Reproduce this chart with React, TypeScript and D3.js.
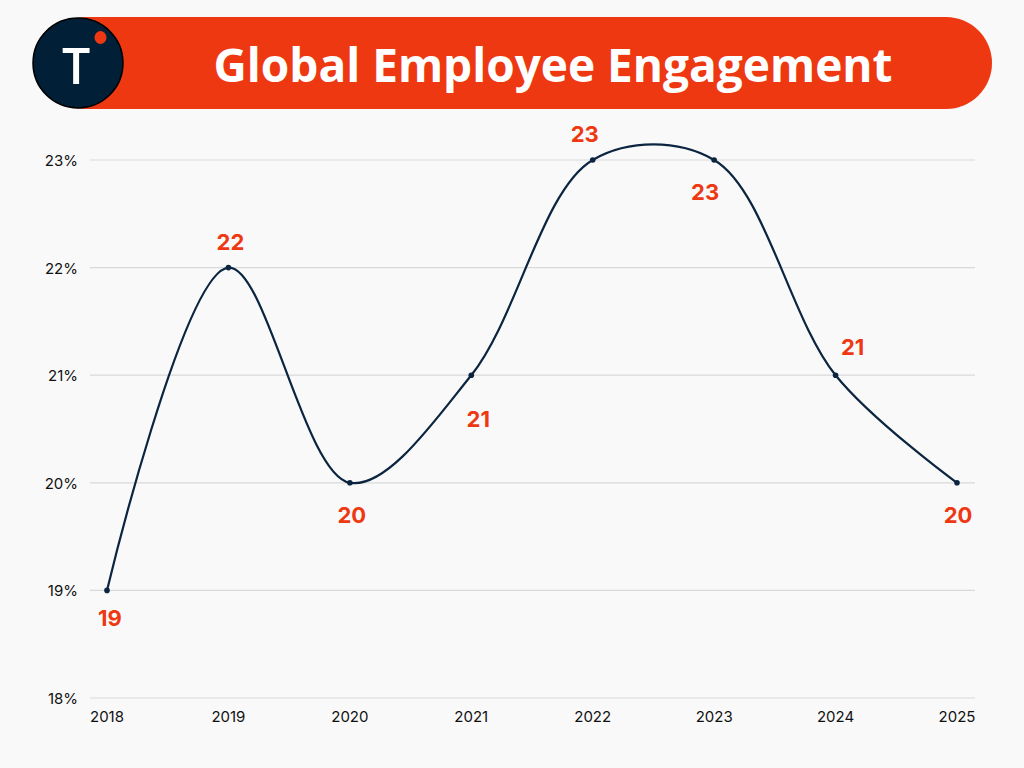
import * as d3 from "d3";
import React from "react";

const years = ["2018", "2019", "2020", "2021", "2022", "2023", "2024", "2025"];
const engagement = [19, 22, 20, 21, 23, 23, 21, 20];
const yTicks = [18, 19, 20, 21, 22, 23];
// where each value label sits relative to its point
const labelPos = [
  { dy: 36, dx: 3 },
  { dy: -18, dx: 2 },
  { dy: 40, dx: 2 },
  { dy: 52, dx: 7 },
  { dy: -18, dx: -8 },
  { dy: 40, dx: -9 },
  { dy: -20, dx: 17 },
  { dy: 40, dx: 1 },
];

const W = 1024;
const H = 768;
const navy = "#0b2540";
const orange = "#ee3811";

const App: React.FC = () => {
  const x = d3.scalePoint<string>().domain(years).range([107, 957]);
  const y = d3.scaleLinear().domain([18, 23]).range([698, 160]);

  const line = d3
    .line<number>()
    .x((_, i) => x(years[i]) as number)
    .y((d) => y(d))
    .curve(d3.curveCatmullRom.alpha(0.5));

  return (
    <svg
      width={W}
      height={H}
      style={{ position: "absolute", left: 0, top: 0, background: "#f9f9f9" }}
      fontFamily="Inter, 'Open Sans', sans-serif"
    >
      <rect width={W} height={H} fill="#f9f9f9" />

      {/* header */}
      <rect x={40} y={17} width={952} height={92} rx={46} fill={orange} />
      <circle cx={78} cy={63} r={45} fill="#012037" stroke="#000" strokeWidth={1.5} />
      <text x={76} y={84} textAnchor="middle" fill="#fff" fontSize={50} fontWeight={600} fontFamily="'Open Sans', sans-serif">
        T
      </text>
      <ellipse cx={100.5} cy={37.5} rx={6} ry={6.5} fill={orange} />
      <text
        x={553}
        y={82}
        textAnchor="middle"
        fill="#fff"
        fontSize={46}
        fontWeight={700}
        fontFamily="'Open Sans', sans-serif"
        textLength={679}
        lengthAdjust="spacingAndGlyphs"
      >
        Global Employee Engagement
      </text>

      {/* grid + y axis */}
      {yTicks.map((t) => (
        <g key={t}>
          <line x1={90} x2={975} y1={y(t)} y2={y(t)} stroke="#d9d9d9" strokeWidth={1.2} />
          <text x={78} y={y(t) + 6} textAnchor="end" fontSize={15} fill="#111">
            {t}%
          </text>
        </g>
      ))}

      {/* x axis labels */}
      {years.map((yr) => (
        <text key={yr} x={x(yr)} y={722} textAnchor="middle" fontSize={15} fill="#111">
          {yr}
        </text>
      ))}

      {/* line */}
      <path d={line(engagement) ?? ""} fill="none" stroke={navy} strokeWidth={2.2} />
      {engagement.map((v, i) => (
        <circle key={i} cx={x(years[i])} cy={y(v)} r={2.8} fill={navy} />
      ))}

      {/* value labels */}
      {engagement.map((v, i) => (
        <text
          key={"l" + i}
          x={(x(years[i]) as number) + labelPos[i].dx}
          y={y(v) + labelPos[i].dy}
          textAnchor="middle"
          fontSize={22}
          fontWeight={700}
          fill={orange}
        >
          {v}
        </text>
      ))}
    </svg>
  );
};

export default App;
